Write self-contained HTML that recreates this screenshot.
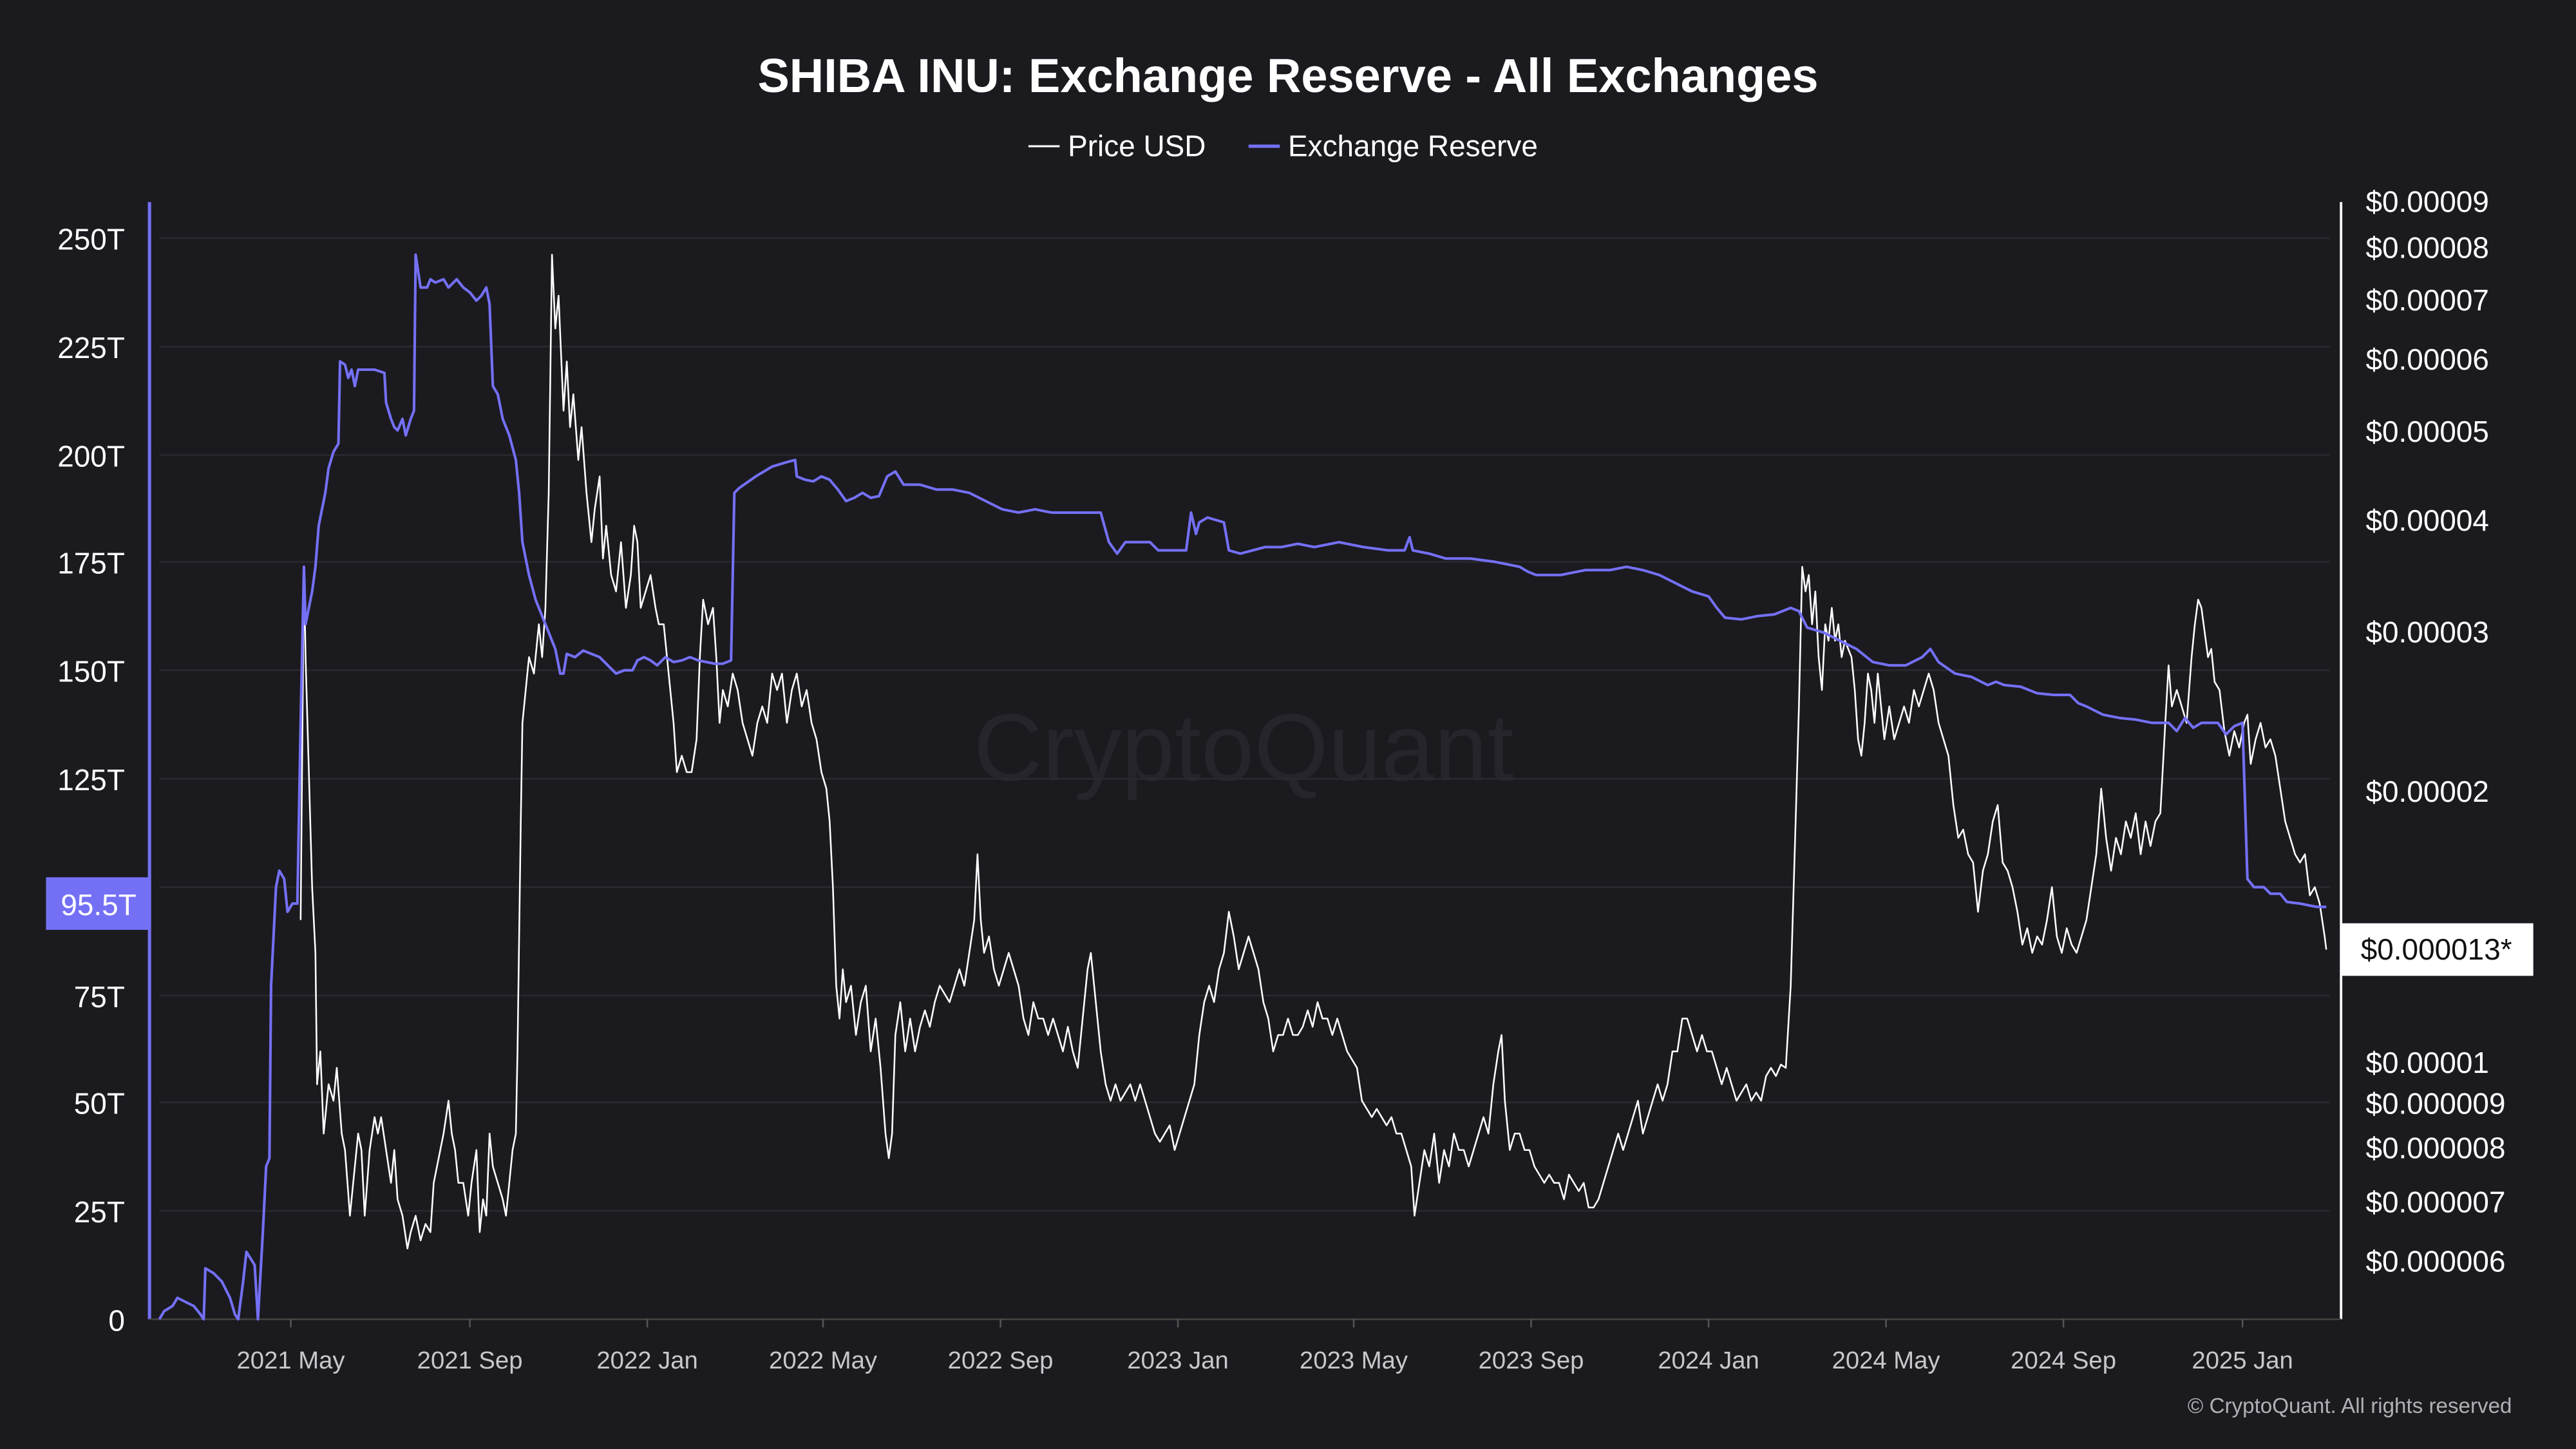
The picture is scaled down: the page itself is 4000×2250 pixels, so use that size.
<!DOCTYPE html>
<html><head><meta charset="utf-8"><style>
html,body{margin:0;padding:0;background:#1b1a1f;}
svg{display:block;}
text{font-family:"Liberation Sans",sans-serif;}
</style></head><body>
<svg width="4000" height="2250" viewBox="0 0 1568 882" preserveAspectRatio="none" xmlns="http://www.w3.org/2000/svg">
<rect width="1568" height="882" fill="#1b1a1f"/>
<text x="784" y="56" text-anchor="middle" font-size="29" font-weight="bold" fill="#ffffff">SHIBA INU: Exchange Reserve - All Exchanges</text>
<line x1="626" y1="89" x2="645" y2="89" stroke="#ffffff" stroke-width="1.2"/>
<text x="650" y="95" font-size="18" fill="#ffffff">Price USD</text>
<line x1="760" y1="89" x2="779" y2="89" stroke="#7470f5" stroke-width="2"/>
<text x="784" y="95" font-size="18" fill="#ffffff">Exchange Reserve</text>
<text x="757" y="475" text-anchor="middle" font-size="58" fill="#26252b">CryptoQuant</text>
<g stroke="#2a292f" stroke-width="1">
<line x1="97" y1="145" x2="1418" y2="145"/><line x1="97" y1="211" x2="1418" y2="211"/><line x1="97" y1="277" x2="1418" y2="277"/><line x1="97" y1="342" x2="1418" y2="342"/><line x1="97" y1="408" x2="1418" y2="408"/><line x1="97" y1="474" x2="1418" y2="474"/><line x1="97" y1="540" x2="1418" y2="540"/><line x1="97" y1="606" x2="1418" y2="606"/><line x1="97" y1="671" x2="1418" y2="671"/><line x1="97" y1="737" x2="1418" y2="737"/>
</g>
<line x1="91" y1="123" x2="91" y2="803" stroke="#7470f5" stroke-width="2"/>
<line x1="1425" y1="123" x2="1425" y2="803" stroke="#ffffff" stroke-width="1.5"/>
<line x1="91" y1="803" x2="1425" y2="803" stroke="#444" stroke-width="1"/>
<g font-size="18" fill="#ffffff" text-anchor="end">
<text x="76" y="152">250T</text><text x="76" y="218">225T</text><text x="76" y="284">200T</text><text x="76" y="349">175T</text><text x="76" y="415">150T</text><text x="76" y="481">125T</text><text x="76" y="613">75T</text><text x="76" y="678">50T</text><text x="76" y="744">25T</text><text x="76" y="810">0</text>
</g>
<g font-size="18" fill="#ffffff">
<text x="1440" y="129">$0.00009</text><text x="1440" y="157">$0.00008</text><text x="1440" y="189">$0.00007</text><text x="1440" y="225">$0.00006</text><text x="1440" y="269">$0.00005</text><text x="1440" y="323">$0.00004</text><text x="1440" y="391">$0.00003</text><text x="1440" y="488">$0.00002</text><text x="1440" y="653">$0.00001</text><text x="1440" y="678">$0.000009</text><text x="1440" y="705">$0.000008</text><text x="1440" y="738">$0.000007</text><text x="1440" y="774">$0.000006</text>
</g>
<g stroke="#555" stroke-width="1">
<line x1="177" y1="803" x2="177" y2="808"/><line x1="286" y1="803" x2="286" y2="808"/><line x1="394" y1="803" x2="394" y2="808"/><line x1="501" y1="803" x2="501" y2="808"/><line x1="609" y1="803" x2="609" y2="808"/><line x1="717" y1="803" x2="717" y2="808"/><line x1="824" y1="803" x2="824" y2="808"/><line x1="932" y1="803" x2="932" y2="808"/><line x1="1040" y1="803" x2="1040" y2="808"/><line x1="1148" y1="803" x2="1148" y2="808"/><line x1="1256" y1="803" x2="1256" y2="808"/><line x1="1365" y1="803" x2="1365" y2="808"/>
</g>
<g font-size="15" fill="#c8c8cc" text-anchor="middle">
<text x="177" y="833">2021 May</text><text x="286" y="833">2021 Sep</text><text x="394" y="833">2022 Jan</text><text x="501" y="833">2022 May</text><text x="609" y="833">2022 Sep</text><text x="717" y="833">2023 Jan</text><text x="824" y="833">2023 May</text><text x="932" y="833">2023 Sep</text><text x="1040" y="833">2024 Jan</text><text x="1148" y="833">2024 May</text><text x="1256" y="833">2024 Sep</text><text x="1365" y="833">2025 Jan</text>
</g>
<text x="1529" y="860" text-anchor="end" font-size="13" fill="#b0b0b5">© CryptoQuant. All rights reserved</text>
<polyline fill="none" stroke="#ffffff" stroke-width="1" stroke-linejoin="round" points="183,560 185,345 186,400 188,470 190,540 192,580 193,660 195,640 197,690 200,660 203,670 205,650 208,690 210,700 213,740 215,720 218,690 220,700 222,740 225,700 228,680 230,690 232,680 235,700 238,720 240,700 242,730 245,740 248,760 250,750 253,740 256,755 259,745 262,750 264,720 266,710 268,700 270,690 273,670 275,690 277,700 279,720 282,720 285,740 287,720 290,700 292,750 294,730 296,740 298,690 300,710 303,720 306,730 308,740 310,720 312,700 314,690 315,640 317,500 318,440 320,420 322,400 325,410 328,380 330,400 332,370 334,300 336,155 338,200 340,180 343,250 345,220 347,260 349,240 352,280 354,260 357,300 360,330 362,310 365,290 367,340 369,320 372,350 375,360 378,330 381,370 384,350 386,320 388,330 390,370 393,360 396,350 399,370 401,380 404,380 407,410 410,440 412,470 415,460 418,470 421,470 424,450 426,400 428,365 431,380 434,370 436,400 438,440 440,420 443,430 446,410 449,420 452,440 455,450 458,460 461,440 464,430 467,440 470,410 473,420 476,410 479,440 482,420 485,410 488,430 491,420 494,440 497,450 500,470 503,480 505,500 507,540 509,600 511,620 513,590 515,610 518,600 521,630 524,610 527,600 530,640 533,620 536,650 539,690 541,705 543,690 545,630 548,610 551,640 554,620 557,640 560,625 563,615 566,625 569,610 572,600 575,605 578,610 581,600 584,590 587,600 590,580 593,560 595,520 597,560 599,580 602,570 605,590 608,600 611,590 614,580 617,590 620,600 623,620 626,630 629,610 632,620 635,620 638,630 641,620 644,630 647,640 650,625 653,640 656,650 659,620 662,590 664,580 667,610 670,640 673,660 676,670 679,660 682,670 685,665 688,660 691,670 694,660 697,670 700,680 703,690 706,695 709,690 712,685 715,700 718,690 721,680 724,670 727,660 730,630 733,610 736,600 739,610 742,590 745,580 748,555 751,570 754,590 757,580 760,570 763,580 766,590 769,610 772,620 775,640 778,630 781,630 784,620 787,630 790,630 793,625 796,615 799,625 802,610 805,620 808,620 811,630 814,620 817,630 820,640 823,645 826,650 829,670 832,675 835,680 838,675 841,680 844,685 847,680 850,690 853,690 856,700 859,710 861,740 864,720 867,700 870,710 873,690 876,720 879,700 882,710 885,690 888,700 891,700 894,710 897,700 900,690 903,680 906,690 909,660 912,640 914,630 916,670 919,700 922,690 925,690 928,700 931,700 934,710 937,715 940,720 943,715 946,720 949,720 952,730 955,715 958,720 961,725 964,720 967,735 970,735 973,730 976,720 979,710 982,700 985,690 988,700 991,690 994,680 997,670 1000,690 1003,680 1006,670 1009,660 1012,670 1015,660 1018,640 1021,640 1024,620 1027,620 1030,630 1033,640 1036,630 1039,640 1042,640 1045,650 1048,660 1051,650 1054,660 1057,670 1060,665 1063,660 1066,670 1069,665 1072,670 1075,655 1078,650 1081,655 1084,648 1087,650 1090,600 1093,500 1095,430 1097,345 1099,360 1101,350 1103,380 1105,360 1107,400 1109,420 1111,380 1113,390 1115,370 1117,390 1119,380 1121,400 1123,390 1125,395 1127,400 1129,420 1131,450 1133,460 1135,440 1137,410 1139,420 1141,440 1143,410 1145,430 1147,450 1150,430 1153,450 1156,440 1159,430 1162,440 1165,420 1168,430 1171,420 1174,410 1177,420 1180,440 1183,450 1186,460 1189,490 1192,510 1195,505 1198,520 1201,525 1204,555 1207,530 1210,520 1213,500 1216,490 1219,525 1222,530 1225,540 1228,555 1231,575 1234,565 1237,580 1240,570 1243,575 1246,560 1249,540 1252,570 1255,580 1258,565 1261,575 1264,580 1267,570 1270,560 1273,540 1276,520 1279,480 1282,510 1285,530 1288,510 1291,520 1294,500 1297,510 1300,495 1303,520 1306,500 1309,515 1312,500 1315,495 1318,440 1320,405 1322,430 1325,420 1328,430 1331,440 1334,400 1336,380 1338,365 1340,370 1342,385 1344,400 1346,395 1348,415 1351,420 1354,445 1357,460 1360,445 1363,455 1366,440 1368,435 1370,465 1373,450 1376,440 1379,455 1382,450 1385,460 1388,480 1391,500 1394,510 1397,520 1400,525 1403,520 1406,545 1409,540 1412,550 1415,570 1416,578"/>
<polyline fill="none" stroke="#7470f5" stroke-width="1.6" stroke-linejoin="round" points="97,803 100,798 105,795 108,790 112,792 118,795 122,800 124,803 125,772 130,775 135,780 140,790 143,800 145,803 148,780 150,762 155,770 157,803 160,750 162,710 164,705 165,600 168,540 170,530 173,535 175,555 178,550 181,550 183,440 185,345 186,380 188,370 190,360 192,345 194,320 196,310 198,300 200,285 203,275 206,270 207,220 210,222 212,230 214,225 216,235 218,225 222,225 228,225 234,227 235,245 238,255 240,260 242,262 245,255 247,265 250,255 252,250 253,155 256,175 260,175 262,170 265,172 270,170 273,175 278,170 282,175 286,178 290,183 293,180 296,175 298,185 300,235 303,240 306,255 310,265 314,280 316,300 318,330 322,350 326,365 330,375 334,385 338,395 341,410 343,410 345,398 350,400 355,396 360,398 365,400 370,405 375,410 380,408 385,408 388,402 392,400 396,402 400,405 405,400 410,403 415,402 420,400 425,402 430,403 435,404 440,404 445,402 447,300 450,297 460,290 465,287 470,284 480,281 484,280 485,290 490,292 495,293 500,290 505,292 510,298 515,305 520,303 525,300 530,303 535,302 540,290 545,287 550,295 560,295 570,298 580,298 590,300 600,305 610,310 620,312 630,310 640,312 660,312 670,312 675,330 680,337 685,330 690,330 700,330 705,335 715,335 722,335 725,312 728,325 730,318 735,315 745,318 748,335 755,337 770,333 780,333 790,331 800,333 815,330 830,333 845,335 855,335 858,327 860,335 870,337 880,340 895,340 910,342 925,345 930,348 935,350 950,350 965,347 980,347 990,345 1000,347 1010,350 1020,355 1030,360 1040,363 1045,370 1050,376 1060,377 1070,375 1080,374 1090,370 1095,372 1100,382 1110,385 1120,390 1130,395 1140,403 1150,405 1160,405 1170,400 1175,395 1180,403 1190,410 1200,412 1210,417 1215,415 1220,417 1230,418 1240,422 1250,423 1260,423 1265,428 1270,430 1280,435 1290,437 1300,438 1310,440 1320,440 1325,445 1330,437 1335,443 1340,440 1350,440 1355,447 1360,442 1365,440 1368,535 1372,540 1378,540 1382,544 1388,544 1392,549 1400,550 1410,552 1416,552"/>
<rect x="28" y="534" width="63" height="32" fill="#7470f5"/>
<text x="60" y="557" text-anchor="middle" font-size="18" fill="#ffffff">95.5T</text>
<rect x="1425" y="562" width="117" height="32" fill="#ffffff"/>
<text x="1483" y="584" text-anchor="middle" font-size="18" fill="#111">$0.000013*</text>
</svg>
</body></html>
